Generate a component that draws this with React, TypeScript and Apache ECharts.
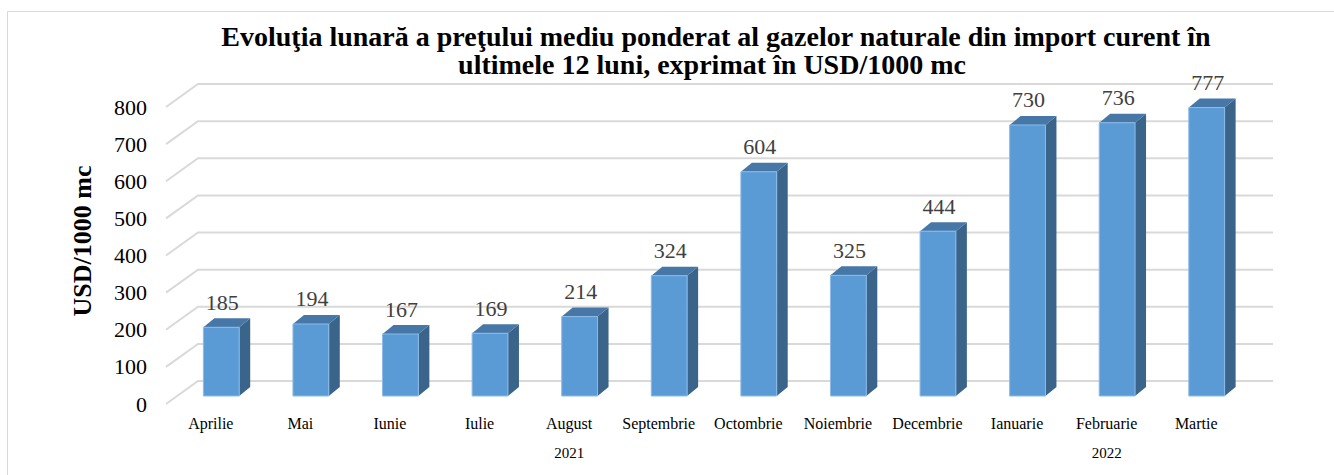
import React, { useEffect, useRef } from "react";
import * as echarts from "echarts";

const months = [
  "Aprilie", "Mai", "Iunie", "Iulie", "August", "Septembrie",
  "Octombrie", "Noiembrie", "Decembrie", "Ianuarie", "Februarie", "Martie",
];
const prices = [185, 194, 167, 169, 214, 324, 604, 325, 444, 730, 736, 777];
const yearLabels = ["", "", "", "", "2021", "", "", "", "", "", "2022", ""];
const yTicks = [0, 100, 200, 300, 400, 500, 600, 700, 800];
const titleLine1 = "Evoluţia lunară a preţului mediu ponderat al gazelor naturale din import curent în";
const titleLine2 = "ultimele 12 luni, exprimat în USD/1000 mc";
const yName = "USD/1000 mc";

const FONT = "'Liberation Serif', 'Times New Roman', serif";

export default function App() {
  const ref = useRef<HTMLDivElement>(null);
  useEffect(() => {
    document.body.style.margin = "0";
    const chart = echarts.init(ref.current!, undefined, { renderer: "svg" });
    const depthX = 32;
    const depthY = -23;
    const option: any = {
      animation: false,
      grid: { left: 166, top: 107, width: 1075, height: 297 },
      graphic: [
        {
          type: "rect",
          shape: { x: 7.5, y: 11.5, width: 1400, height: 500 },
          style: { fill: "none", stroke: "#D9D9D9", lineWidth: 1 },
          silent: true,
        },
        {
          type: "text",
          x: 716,
          y: 36,
          style: {
            text: titleLine1,
            textAlign: "center",
            textVerticalAlign: "middle",
            font: `bold 28px ${FONT}`,
            fill: "#000",
          },
        },
        {
          type: "text",
          x: 712,
          y: 64,
          style: {
            text: titleLine2,
            textAlign: "center",
            textVerticalAlign: "middle",
            font: `bold 28px ${FONT}`,
            fill: "#000",
          },
        },
        {
          type: "text",
          x: 82,
          y: 241,
          rotation: Math.PI / 2,
          style: {
            text: yName,
            textAlign: "center",
            textVerticalAlign: "middle",
            font: `bold 26px ${FONT}`,
            fill: "#000",
          },
        },
      ],
      xAxis: [
        {
          type: "category",
          data: months,
          axisLine: { show: false },
          axisTick: { show: false },
          axisLabel: { interval: 0, fontSize: 16, fontFamily: FONT, color: "#000", margin: 11 },
        },
        {
          type: "category",
          data: yearLabels,
          position: "bottom",
          offset: 29,
          axisLine: { show: false },
          axisTick: { show: false },
          axisLabel: { interval: 0, fontSize: 15, fontFamily: FONT, color: "#000", margin: 12 },
        },
      ],
      yAxis: {
        type: "value",
        min: 0,
        max: 800,
        interval: 100,
        axisLine: { show: false },
        axisTick: { show: false },
        splitLine: { show: false },
        axisLabel: { fontSize: 22, fontFamily: FONT, color: "#000", margin: 19 },
      },
      series: [
        {
          type: "custom",
          z: 1,
          silent: true,
          data: yTicks.map((t) => [0, t]),
          renderItem: (params: any, api: any) => {
            const cs = params.coordSys;
            const p = api.coord([0, api.value(1)]);
            const y = p[1];
            return {
              type: "polyline",
              shape: {
                points: [
                  [cs.x, y],
                  [cs.x + depthX, y + depthY],
                  [cs.x + cs.width + depthX, y + depthY],
                ],
              },
              style: { stroke: "#D9D9D9", lineWidth: 2, fill: "none" },
            };
          },
        },
        {
          type: "custom",
          z: 2,
          data: prices.map((v, i) => [i, v]),
          renderItem: (params: any, api: any) => {
            const idx = api.value(0);
            const v = api.value(1);
            const top = api.coord([idx, v]);
            const base = api.coord([idx, 0]);
            const band = api.size([1, 0])[0];
            const w = band * 0.4;
            const ox = 10.5;
            const oy = -8;
            const bx = 11;
            const by = -9;
            const xl = top[0] + ox - w / 2;
            const xr = xl + w;
            const yt = top[1] + oy;
            const yb = base[1] + oy;
            return {
              type: "group",
              children: [
                {
                  type: "polygon",
                  shape: { points: [[xr, yb], [xr, yt], [xr + bx, yt + by], [xr + bx, yb + by]] },
                  style: { fill: "#3A6489" },
                },
                {
                  type: "polygon",
                  shape: { points: [[xl, yt], [xr, yt], [xr + bx, yt + by], [xl + bx, yt + by]] },
                  style: { fill: "#4677A6" },
                },
                {
                  type: "rect",
                  shape: { x: xl, y: yt, width: w, height: yb - yt },
                  style: { fill: "#5B9BD5", stroke: "#8DBBE6", lineWidth: 1 },
                },
                {
                  type: "text",
                  x: (xl + xr) / 2 + 1,
                  y: yt - 25,
                  style: {
                    text: String(v),
                    textAlign: "center",
                    textVerticalAlign: "middle",
                    font: `22px ${FONT}`,
                    fill: "#404040",
                  },
                },
              ],
            };
          },
        },
      ],
    };
    chart.setOption(option);
    return () => chart.dispose();
  }, []);
  return <div ref={ref} style={{ width: "1334px", height: "475px", overflow: "hidden" }} />;
}
